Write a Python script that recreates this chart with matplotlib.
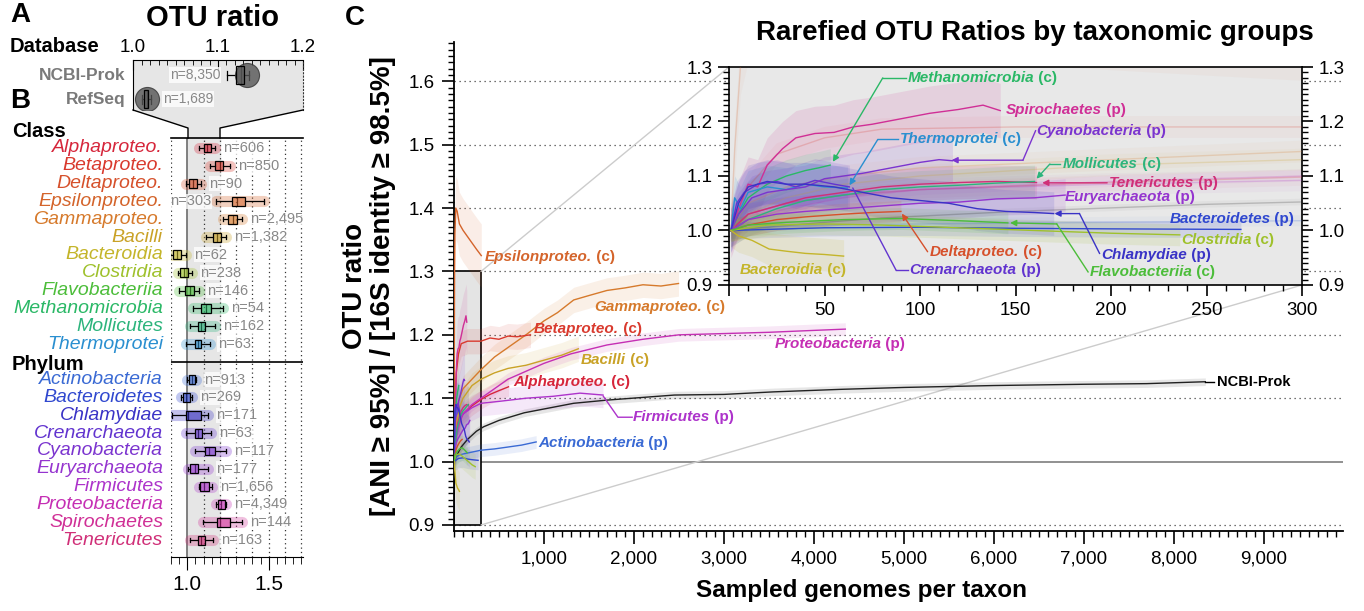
import numpy as np
import matplotlib.pyplot as plt
from matplotlib.colors import to_rgba
from matplotlib.patches import Rectangle, Polygon, ConnectionPatch
from matplotlib.lines import Line2D
from matplotlib.ticker import MultipleLocator, FixedLocator, FuncFormatter
from matplotlib.transforms import blended_transform_factory

plt.rcParams['font.family'] = ['Liberation Sans', 'DejaVu Sans']

# ---------------- data ----------------
# Panel A: databases (boxplot stats)
db_names = ['NCBI-Prok', 'RefSeq']
db_n = ['n=8,350', 'n=1,689']
db_lo = [1.110, 1.010]
db_q1 = [1.121, 1.013]
db_med = [1.127, 1.016]
db_q3 = [1.131, 1.018]
db_hi = [1.136, 1.021]
db_cloud = [1.134, 1.017]

# Panel B: classes
class_names = ['Alphaproteo.', 'Betaproteo.', 'Deltaproteo.', 'Epsilonproteo.', 'Gammaproteo.',
               'Bacilli', 'Bacteroidia', 'Clostridia', 'Flavobacteriia', 'Methanomicrobia',
               'Mollicutes', 'Thermoprotei']
class_n = ['n=606', 'n=850', 'n=90', 'n=303', 'n=2,495', 'n=1,382', 'n=62', 'n=238',
           'n=146', 'n=54', 'n=162', 'n=63']
class_lo = [1.071, 1.137, 0.994, 1.178, 1.222, 1.116, 0.896, 0.943, 0.949, 1.035, 1.018, 0.994]
class_q1 = [1.100, 1.173, 1.010, 1.276, 1.249, 1.157, 0.912, 0.953, 0.984, 1.086, 1.065, 1.045]
class_med = [1.120, 1.198, 1.035, 1.304, 1.280, 1.182, 0.939, 0.978, 1.014, 1.112, 1.086, 1.065]
class_q3 = [1.143, 1.222, 1.059, 1.357, 1.304, 1.208, 0.963, 1.004, 1.039, 1.147, 1.106, 1.086]
class_hi = [1.167, 1.259, 1.086, 1.473, 1.337, 1.235, 0.994, 1.031, 1.071, 1.218, 1.167, 1.137]
class_colors = ['#d6263b', '#d93a2e', '#d6502b', '#d4642b', '#d67a2c', '#c9a227', '#c4b52a',
                '#9fc12c', '#4cbd3a', '#2ab866', '#2cb47c', '#2a8fd0']

# Panel B: phyla
phylum_names = ['Actinobacteria', 'Bacteroidetes', 'Chlamydiae', 'Crenarchaeota', 'Cyanobacteria',
                'Euryarchaeota', 'Firmicutes', 'Proteobacteria', 'Spirochaetes', 'Tenericutes']
phylum_n = ['n=913', 'n=269', 'n=171', 'n=63', 'n=117', 'n=177', 'n=1,656', 'n=4,349',
            'n=144', 'n=163']
phylum_lo = [0.998, 0.963, 0.908, 0.994, 1.045, 1.004, 1.071, 1.178, 1.096, 1.018]
phylum_q1 = [1.010, 0.973, 0.994, 1.045, 1.106, 1.014, 1.076, 1.188, 1.182, 1.065]
phylum_med = [1.029, 0.994, 1.004, 1.067, 1.133, 1.045, 1.100, 1.208, 1.202, 1.086]
phylum_q3 = [1.045, 1.014, 1.086, 1.092, 1.167, 1.065, 1.133, 1.229, 1.259, 1.106]
phylum_hi = [1.055, 1.031, 1.127, 1.147, 1.239, 1.127, 1.151, 1.239, 1.337, 1.157]
phylum_colors = ['#3a6ad4', '#3048cf', '#3a33c6', '#6234cf', '#7b34cf', '#9534cf', '#ad33cb',
                 '#c52fb4', '#d02f96', '#d02f78']

# Panel C: rarefaction curves (sampled genomes, OTU ratio)
ncbi_x = [1, 20, 50, 80, 150, 250, 330, 500, 780, 1000, 1330, 1700, 2450, 3000, 3550, 4300,
          5000, 6000, 7000, 7700, 8350]
ncbi_y = [1.0, 1.006, 1.015, 1.023, 1.035, 1.048, 1.055, 1.065, 1.077, 1.083, 1.092, 1.097,
          1.105, 1.106, 1.110, 1.114, 1.117, 1.120, 1.122, 1.123, 1.126]
gamma_x = [1, 10, 30, 60, 100, 200, 300, 450, 600, 800, 1000, 1150, 1330, 1500, 1700, 1900,
           2100, 2300, 2495]
gamma_y = [1.0, 1.05, 1.08, 1.10, 1.115, 1.13, 1.145, 1.165, 1.18, 1.20, 1.222, 1.235, 1.255,
           1.262, 1.27, 1.274, 1.279, 1.277, 1.281]
beta_x = [1, 10, 25, 50, 80, 150, 300, 400, 500, 600, 700, 850]
beta_y = [1.0, 1.08, 1.14, 1.17, 1.186, 1.19, 1.19, 1.195, 1.193, 1.198, 1.197, 1.20]
alpha_x = [1, 10, 30, 60, 100, 200, 300, 400, 500, 606]
alpha_y = [1.0, 1.03, 1.05, 1.065, 1.075, 1.088, 1.098, 1.106, 1.112, 1.118]
bacilli_x = [1, 10, 30, 60, 100, 200, 300, 450, 600, 800, 1000, 1200, 1382]
bacilli_y = [1.0, 1.03, 1.06, 1.085, 1.10, 1.12, 1.13, 1.14, 1.147, 1.152, 1.16, 1.168, 1.178]
proteo_x = [1, 10, 30, 60, 100, 200, 300, 600, 1000, 1300, 1700, 2100, 2500, 3000, 3500, 4000,
            4349]
proteo_y = [1.0, 1.02, 1.04, 1.06, 1.075, 1.09, 1.10, 1.13, 1.155, 1.17, 1.184, 1.193, 1.20,
            1.202, 1.204, 1.207, 1.209]
firm_x = [1, 10, 30, 60, 100, 200, 300, 500, 800, 1100, 1400, 1656]
firm_y = [1.0, 1.03, 1.05, 1.065, 1.075, 1.085, 1.092, 1.095, 1.10, 1.103, 1.108, 1.105]
actino_x = [1, 10, 50, 100, 200, 300, 450, 600, 750, 913]
actino_y = [1.0, 1.005, 1.01, 1.012, 1.015, 1.018, 1.02, 1.023, 1.026, 1.031]
epsilon_x = [1, 3, 6, 10, 20, 35, 60, 100, 150, 200, 250, 303]
epsilon_y = [1.0, 1.15, 1.30, 1.36, 1.40, 1.395, 1.375, 1.365, 1.355, 1.345, 1.335, 1.325]

spiro_x = [1, 5, 10, 15, 20, 28, 35, 45, 55, 65, 75, 90, 105, 120, 133, 142]
spiro_y = [1.0, 1.04, 1.085, 1.08, 1.12, 1.15, 1.17, 1.178, 1.18, 1.19, 1.195, 1.205, 1.215,
           1.222, 1.23, 1.22]
teneri_x = [1, 10, 25, 40, 60, 80, 100, 120, 140, 161]
teneri_y = [1.0, 1.03, 1.045, 1.06, 1.07, 1.08, 1.085, 1.088, 1.09, 1.088]
molli_x = [1, 10, 25, 40, 60, 80, 100, 120, 140, 160]
molli_y = [1.0, 1.02, 1.04, 1.055, 1.065, 1.075, 1.08, 1.083, 1.087, 1.09]
methano_x = [1, 5, 10, 20, 30, 40, 47, 53]
methano_y = [1.0, 1.03, 1.06, 1.085, 1.10, 1.11, 1.115, 1.12]
thermo_x = [1, 3, 6, 10, 20, 30, 40, 50, 62]
thermo_y = [1.0, 1.06, 1.04, 1.07, 1.08, 1.075, 1.085, 1.08, 1.078]
crena_x = [1, 4, 8, 15, 25, 35, 45, 55, 63]
crena_y = [1.0, 1.05, 1.07, 1.085, 1.09, 1.08, 1.092, 1.085, 1.08]
cyano_x = [1, 5, 12, 20, 30, 40, 50, 60, 70, 85, 100, 110, 117]
cyano_y = [1.0, 1.03, 1.06, 1.07, 1.075, 1.08, 1.095, 1.10, 1.105, 1.115, 1.125, 1.13, 1.128]
eury_x = [1, 10, 25, 40, 60, 80, 100, 120, 140, 160, 176]
eury_y = [1.0, 1.02, 1.03, 1.035, 1.04, 1.045, 1.05, 1.052, 1.058, 1.06, 1.065]
chlamy_x = [1, 5, 10, 20, 30, 40, 55, 70, 85, 100, 115, 130, 145, 160, 170]
chlamy_y = [1.0, 1.05, 1.08, 1.09, 1.085, 1.085, 1.08, 1.07, 1.06, 1.055, 1.05, 1.04, 1.035,
            1.033, 1.031]
bactes_x = [1, 20, 50, 100, 150, 200, 268]
bactes_y = [1.0, 1.002, 1.005, 1.006, 1.004, 1.003, 1.002]
delta_x = [1, 10, 25, 40, 60, 75, 90]
delta_y = [1.0, 1.01, 1.02, 1.025, 1.03, 1.033, 1.035]
clost_x = [1, 20, 50, 80, 120, 160, 200, 236]
clost_y = [1.0, 1.01, 1.012, 1.01, 1.005, 1.0, 0.995, 0.992]
flavo_x = [1, 10, 30, 60, 90, 120, 146]
flavo_y = [1.0, 1.01, 1.015, 1.02, 1.022, 1.018, 1.014]
bdia_x = [1, 5, 12, 21, 30, 40, 50, 60]
bdia_y = [1.0, 0.99, 0.982, 0.966, 0.962, 0.958, 0.956, 0.953]

W, H = 1364, 611


def box(l, t, r, b):
    return [l / W, 1 - b / H, (r - l) / W, (b - t) / H]


def fpt(x, y):
    return (x / W, 1 - y / H)


def hbox(ax, stats, pos, width, colors, lw=0.9):
    kw = dict(positions=pos, widths=width, patch_artist=True, showfliers=False,
              manage_ticks=False,
              boxprops=dict(edgecolor='k', linewidth=lw),
              medianprops=dict(color='k', linewidth=lw),
              whiskerprops=dict(color='k', linewidth=lw),
              capprops=dict(color='k', linewidth=lw))
    try:
        bp = ax.bxp(stats, orientation='horizontal', **kw)
    except TypeError:
        bp = ax.bxp(stats, vert=False, **kw)
    for patch, c in zip(bp['boxes'], colors):
        patch.set_facecolor(to_rgba(c, 0.55))
        patch.set_zorder(4)
    return bp


def tag(ax, x, y, name, kind, color, size=11, ha='left'):
    if ha == 'left':
        t = ax.text(x, y, name, color=color, fontsize=size, fontweight='bold',
                    fontstyle='italic', ha='left', va='center', zorder=8)
        ax.annotate(' (' + kind + ')', xy=(1, 0), xycoords=t, ha='left', va='bottom',
                    color=color, fontsize=size, fontweight='bold', zorder=8)
    else:
        t = ax.text(x, y, ' (' + kind + ')', color=color, fontsize=size, fontweight='bold',
                    ha='right', va='center', zorder=8)
        ax.annotate(name, xy=(0, 0), xycoords=t, ha='right', va='bottom', color=color,
                    fontsize=size, fontweight='bold', fontstyle='italic', zorder=8)


def pointer(ax, xs, ys, color, head=True):
    if len(xs) > 2:
        ax.plot(xs[:-1], ys[:-1], color=color, lw=1, zorder=7)
    ax.annotate('', xy=(xs[-1], ys[-1]), xytext=(xs[-2], ys[-2]),
                arrowprops=dict(arrowstyle='-|>' if head else '-', color=color, lw=1,
                                shrinkA=0, shrinkB=0, mutation_scale=9), zorder=7)


fig = plt.figure(figsize=(W / 100, H / 100), dpi=100)

# ---------------- Panel A ----------------
ax_a = fig.add_axes(box(133, 60, 303, 110))
ax_a.set_facecolor('#e6e6e6')
rows_a = [0, 1]
ax_a.scatter(db_cloud, rows_a, s=300, color='#555555', alpha=0.8, edgecolor='#333333',
             lw=0.8, zorder=3)
stats_a = [dict(med=m, q1=a, q3=b, whislo=lo, whishi=hi, fliers=[])
           for lo, a, m, b, hi in zip(db_lo, db_q1, db_med, db_q3, db_hi)]
hbox(ax_a, stats_a, rows_a, 0.75, ['#555555', '#555555'])
ax_a.set_xlim(1.0, 1.2)
ax_a.set_ylim(1.458, -0.625)
ax_a.xaxis.tick_top()
ax_a.set_xticks([1.0, 1.1, 1.2])
ax_a.set_xticklabels(['1.0', '1.1', '1.2'])
ax_a.xaxis.set_minor_locator(MultipleLocator(0.01))
ax_a.tick_params(axis='x', which='major', direction='in', length=7, labelsize=13.5, pad=3)
ax_a.tick_params(axis='x', which='minor', direction='in', length=3.5)
ax_a.set_yticks([])
ax_a.spines['bottom'].set_visible(False)
ax_a.spines['right'].set_linestyle((0, (1, 2)))
ax_a.spines['right'].set_color('#333333')
trans_a = blended_transform_factory(fig.transFigure, ax_a.transData)
for i, nm in enumerate(db_names):
    ax_a.text(126 / W, rows_a[i], nm, transform=trans_a, ha='right', va='center',
              fontsize=12.5, fontweight='bold', color='#7a7a7a')
ax_a.text(1.103, 0, db_n[0], ha='right', va='center', fontsize=10, color='#888888',
          bbox=dict(fc='white', ec='none', alpha=0.8, pad=0.6))
ax_a.text(1.035, 1, db_n[1], ha='left', va='center', fontsize=10, color='#888888',
          bbox=dict(fc='white', ec='none', alpha=0.8, pad=0.6))

# funnel from panel A to panel B
funnel = [fpt(133, 110), fpt(303, 110), fpt(220, 128), fpt(220, 138), fpt(188, 138),
          fpt(188, 128)]
fig.add_artist(Polygon(funnel, closed=True, transform=fig.transFigure, fc='#e6e6e6',
                       ec='none', zorder=0))
for seg in ([(133, 110), (188, 128), (188, 138)], [(303, 110), (220, 128), (220, 138)]):
    pts = [fpt(*p) for p in seg]
    fig.add_artist(Line2D([p[0] for p in pts], [p[1] for p in pts], transform=fig.transFigure,
                          color='k', lw=1))

# ---------------- Panel B ----------------
ax_b = fig.add_axes(box(171, 138, 303, 557))
rows_c = list(range(12))
rows_p = list(range(13, 23))
ax_b.axvspan(1.0, 1.2, color='#e6e6e6', zorder=0)
for v in [0.9, 1.1, 1.2, 1.3, 1.4, 1.5, 1.6, 1.7]:
    ax_b.axvline(v, color='#333333', lw=0.9, ls=(0, (1, 2.5)), zorder=0.5)
ax_b.axvline(1.0, color='#777777', lw=1.3, zorder=0.6)
ax_b.axhline(12, color='k', lw=1.2, zorder=1)

trans_b = blended_transform_factory(fig.transFigure, ax_b.transData)
groups = [(rows_c, class_names, class_n, class_lo, class_q1, class_med, class_q3, class_hi,
           class_colors),
          (rows_p, phylum_names, phylum_n, phylum_lo, phylum_q1, phylum_med, phylum_q3,
           phylum_hi, phylum_colors)]
for rows, names, ns, lo, q1, med, q3, hi, cols in groups:
    for r, a, b, c in zip(rows, lo, hi, cols):
        ax_b.plot([a, b], [r, r], color=c, lw=8, alpha=0.3, solid_capstyle='round', zorder=2)
    stats = [dict(med=m, q1=a, q3=b, whislo=l, whishi=h, fliers=[])
             for l, a, m, b, h in zip(lo, q1, med, q3, hi)]
    hbox(ax_b, stats, rows, 0.5, cols)
    for r, nm, n, l, h, c in zip(rows, names, ns, lo, hi, cols):
        ax_b.text(163 / W, r, nm, transform=trans_b, ha='right', va='center', fontsize=14,
                  fontstyle='italic', color=c)
        if nm == 'Epsilonproteo.':
            ax_b.text(l - 0.03, r, n, ha='right', va='center', fontsize=10.5, color='#888888',
                      bbox=dict(fc='white', ec='none', alpha=0.75, pad=0.4), zorder=5)
        else:
            ax_b.text(h + 0.05, r, n, ha='left', va='center', fontsize=10.5, color='#888888',
                      bbox=dict(fc='white', ec='none', alpha=0.75, pad=0.4), zorder=5)
ax_b.text(12 / W, -0.95, 'Class', transform=trans_b, ha='left', va='center', fontsize=14.5,
          fontweight='bold')
ax_b.text(12 / W, 12.15, 'Phylum', transform=trans_b, ha='left', va='center', fontsize=14.5,
          fontweight='bold')
ax_b.set_xlim(0.9, 1.71)
ax_b.set_ylim(22.95, -0.56)
ax_b.set_xticks([1.0, 1.5])
ax_b.set_xticklabels(['1.0', '1.5'])
ax_b.xaxis.set_minor_locator(MultipleLocator(0.05))
ax_b.tick_params(axis='x', which='major', direction='out', length=9, labelsize=15, pad=4)
ax_b.tick_params(axis='x', which='minor', direction='out', length=5)
ax_b.set_yticks([])
ax_b.spines['left'].set_visible(False)
ax_b.spines['right'].set_visible(False)
ax_b.spines['top'].set_linewidth(1.2)

# ---------------- Panel C ----------------
curves = [
    ('NCBI-Prok', ncbi_x, ncbi_y, 0.006, '#222222', True),
    ('Epsilonproteo.', epsilon_x, epsilon_y, 0.05, '#d4642b', True),
    ('Gammaproteo.', gamma_x, gamma_y, 0.02, '#d67a2c', True),
    ('Betaproteo.', beta_x, beta_y, 0.02, '#d93a2e', True),
    ('Alphaproteo.', alpha_x, alpha_y, 0.015, '#d6263b', True),
    ('Bacilli', bacilli_x, bacilli_y, 0.02, '#c9a227', True),
    ('Proteobacteria', proteo_x, proteo_y, 0.01, '#c52fb4', True),
    ('Firmicutes', firm_x, firm_y, 0.02, '#ad33cb', True),
    ('Actinobacteria', actino_x, actino_y, 0.01, '#3a6ad4', True),
    ('Spirochaetes', spiro_x, spiro_y, 0.05, '#d02f96', False),
    ('Tenericutes', teneri_x, teneri_y, 0.03, '#d02f78', False),
    ('Mollicutes', molli_x, molli_y, 0.03, '#2cb47c', False),
    ('Methanomicrobia', methano_x, methano_y, 0.03, '#2ab866', False),
    ('Thermoprotei', thermo_x, thermo_y, 0.04, '#2a8fd0', False),
    ('Crenarchaeota', crena_x, crena_y, 0.04, '#6234cf', False),
    ('Cyanobacteria', cyano_x, cyano_y, 0.04, '#7b34cf', False),
    ('Euryarchaeota', eury_x, eury_y, 0.03, '#9534cf', False),
    ('Chlamydiae', chlamy_x, chlamy_y, 0.04, '#3a33c6', False),
    ('Bacteroidetes', bactes_x, bactes_y, 0.015, '#3048cf', False),
    ('Deltaproteo.', delta_x, delta_y, 0.02, '#d6502b', False),
    ('Clostridia', clost_x, clost_y, 0.02, '#9fc12c', False),
    ('Flavobacteriia', flavo_x, flavo_y, 0.02, '#4cbd3a', False),
    ('Bacteroidia', bdia_x, bdia_y, 0.03, '#c4b52a', False),
]

ax = fig.add_axes(box(454, 42, 1343, 531))
ax.add_patch(Rectangle((0, 0.9), 300, 0.4, fc='#e4e4e4', ec='k', lw=1.2, zorder=1))
for v in [0.9, 1.1, 1.2, 1.3, 1.4, 1.5, 1.6]:
    ax.axhline(v, color='#444444', lw=0.9, ls=(0, (1, 3)), zorder=0.5)
ax.axhline(1.0, color='#888888', lw=1.3, zorder=0.6)
for name, xs, ys, sd, c, big in curves:
    xs = np.asarray(xs, float)
    ys = np.asarray(ys, float)
    ax.fill_between(xs, ys - sd, ys + sd, color=c, alpha=0.11, lw=0, zorder=2)
    ax.plot(xs, ys, color=c, lw=1.0, zorder=3)

ax.set_xlim(0, 9880)
ax.set_ylim(0.8905, 1.662)
ax.spines['top'].set_visible(False)
ax.spines['right'].set_visible(False)
ax.spines['left'].set_linewidth(1.3)
ax.spines['bottom'].set_linewidth(1.3)
ax.xaxis.set_major_locator(FixedLocator(range(1000, 10000, 1000)))
ax.xaxis.set_major_formatter(FuncFormatter(lambda v, p: '{:,}'.format(int(v))))
ax.xaxis.set_minor_locator(MultipleLocator(100))
ax.yaxis.set_major_locator(FixedLocator([0.9, 1.0, 1.1, 1.2, 1.3, 1.4, 1.5, 1.6]))
ax.yaxis.set_major_formatter(FuncFormatter(lambda v, p: '%.1f' % v))
ax.yaxis.set_minor_locator(MultipleLocator(0.01))
ax.tick_params(which='major', direction='out', length=9, width=1.2, labelsize=13.5, pad=5)
ax.tick_params(which='minor', direction='out', length=4.5, width=1)
fig.text(861 / W, 1 - 590 / H, 'Sampled genomes per taxon', ha='center', va='center',
         fontsize=17.5, fontweight='bold')
fig.text(369 / W, 1 - 286 / H, 'OTU ratio\n[ANI \u2265 95%] / [16S identity \u2265 98.5%]',
         rotation=90, ha='center', va='center', fontsize=20, fontweight='bold',
         multialignment='center', linespacing=1.12)

# main panel labels
tag(ax, 344, 1.323, 'Epsilonproteo.', 'c', '#d4642b')
tag(ax, 1556, 1.244, 'Gammaproteo.', 'c', '#d67a2c')
tag(ax, 889, 1.209, 'Betaproteo.', 'c', '#d93a2e')
tag(ax, 1411, 1.160, 'Bacilli', 'c', '#c9a227')
tag(ax, 656, 1.125, 'Alphaproteo.', 'c', '#d6263b')
tag(ax, 3560, 1.185, 'Proteobacteria', 'p', '#c52fb4')
tag(ax, 1990, 1.070, 'Firmicutes', 'p', '#ad33cb')
tag(ax, 933, 1.029, 'Actinobacteria', 'p', '#3a6ad4')
ax.plot([1660, 1822, 1980], [1.103, 1.070, 1.070], color='#ad33cb', lw=1, zorder=7)
ax.plot([8350, 8450], [1.126, 1.126], color='k', lw=1, zorder=7)
ax.text(8480, 1.126, 'NCBI-Prok', fontsize=10.5, fontweight='bold', ha='left', va='center',
        zorder=8)

# ---------------- inset ----------------
axi = fig.add_axes(box(729, 67, 1302, 285))
axi.set_facecolor('#e8e8e8')
for name, xs, ys, sd, c, big in curves:
    xs = np.asarray(xs, float)
    ys = np.asarray(ys, float)
    axi.fill_between(xs, ys - sd, ys + sd, color=c, alpha=0.04 if big else 0.13, lw=0,
                     zorder=2)
    axi.plot(xs, ys, color=c, lw=1.0, alpha=0.22 if big else 1.0, zorder=3)
axi.set_xlim(0, 300)
axi.set_ylim(0.9, 1.3)
axi.xaxis.set_major_locator(MultipleLocator(50))
axi.xaxis.set_minor_locator(MultipleLocator(10))
axi.xaxis.set_major_formatter(FuncFormatter(lambda v, p: '' if v == 0 else '%d' % v))
axi.yaxis.set_major_locator(MultipleLocator(0.1))
axi.yaxis.set_minor_locator(MultipleLocator(0.01))
axi.yaxis.set_major_formatter(FuncFormatter(lambda v, p: '%.1f' % v))
axi.tick_params(which='both', left=True, right=True, labelleft=True, labelright=True)
axi.tick_params(which='major', direction='out', length=8, width=1.2, labelsize=13.5, pad=4)
axi.tick_params(which='minor', direction='out', length=4, width=1)
for s in axi.spines.values():
    s.set_linewidth(1.2)

tag(axi, 93.6, 1.28, 'Methanomicrobia', 'c', '#2ab866')
pointer(axi, [92.5, 80.5, 54.4], [1.28, 1.28, 1.126], '#2ab866')
tag(axi, 145, 1.221, 'Spirochaetes', 'p', '#d02f96')
tag(axi, 89.4, 1.167, 'Thermoprotei', 'c', '#2a8fd0')
pointer(axi, [88.3, 77.9, 63.1], [1.167, 1.167, 1.083], '#2a8fd0')
tag(axi, 160.8, 1.183, 'Cyanobacteria', 'p', '#7b34cf')
pointer(axi, [160.5, 153.9, 116.5], [1.183, 1.129, 1.129], '#7b34cf')
tag(axi, 174.8, 1.122, 'Mollicutes', 'c', '#2cb47c')
pointer(axi, [173.2, 168, 161], [1.122, 1.122, 1.095], '#2cb47c')
tag(axi, 199, 1.0875, 'Tenericutes', 'p', '#d02f78')
pointer(axi, [198, 164], [1.0875, 1.0875], '#d02f78')
tag(axi, 175.6, 1.062, 'Euryarchaeota', 'p', '#9534cf')
tag(axi, 296, 1.022, 'Bacteroidetes', 'p', '#3048cf', ha='right')
tag(axi, 236.6, 0.982, 'Clostridia', 'c', '#9fc12c')
tag(axi, 194.8, 0.955, 'Chlamydiae', 'p', '#3a33c6')
pointer(axi, [194, 183.5, 170.4], [0.958, 1.031, 1.031], '#3a33c6')
tag(axi, 188.7, 0.924, 'Flavobacteriia', 'c', '#4cbd3a')
pointer(axi, [188, 171.6, 147.2], [0.924, 1.012, 1.014], '#4cbd3a')
tag(axi, 105, 0.961, 'Deltaproteo.', 'c', '#d6502b')
pointer(axi, [104, 90.5], [0.961, 1.031], '#d6502b')
tag(axi, 94.6, 0.927, 'Crenarchaeota', 'p', '#6234cf')
pointer(axi, [93.6, 87.5, 64.8], [0.927, 0.927, 1.078], '#6234cf', head=False)
tag(axi, 5.8, 0.927, 'Bacteroidia', 'c', '#c4b52a')

# zoom connector lines between gray box and inset
for xa, ya, xb, yb in [(300, 1.3, 0, 1.3), (300, 0.9, 300, 0.9)]:
    con = ConnectionPatch(xyA=(xa, ya), coordsA=ax.transData, xyB=(xb, yb),
                          coordsB=axi.transData, color='#cccccc', lw=1, zorder=1.5)
    ax.add_artist(con)

# titles and panel letters
fig.text(1035 / W, 1 - 33 / H, 'Rarefied OTU Ratios by taxonomic groups', ha='center',
         va='center', fontsize=20, fontweight='bold')
fig.text(213 / W, 1 - 18 / H, 'OTU ratio', ha='center', va='center', fontsize=21,
         fontweight='bold')
fig.text(10 / W, 1 - 47 / H, 'Database', ha='left', va='center', fontsize=14.5,
         fontweight='bold')
fig.text(10 / W, 1 - 15 / H, 'A', ha='left', va='center', fontsize=20, fontweight='bold')
fig.text(10 / W, 1 - 101 / H, 'B', ha='left', va='center', fontsize=20, fontweight='bold')
fig.text(345 / W, 1 - 18 / H, 'C', ha='left', va='center', fontsize=20, fontweight='bold')

fig.savefig('out.png', dpi=100)
